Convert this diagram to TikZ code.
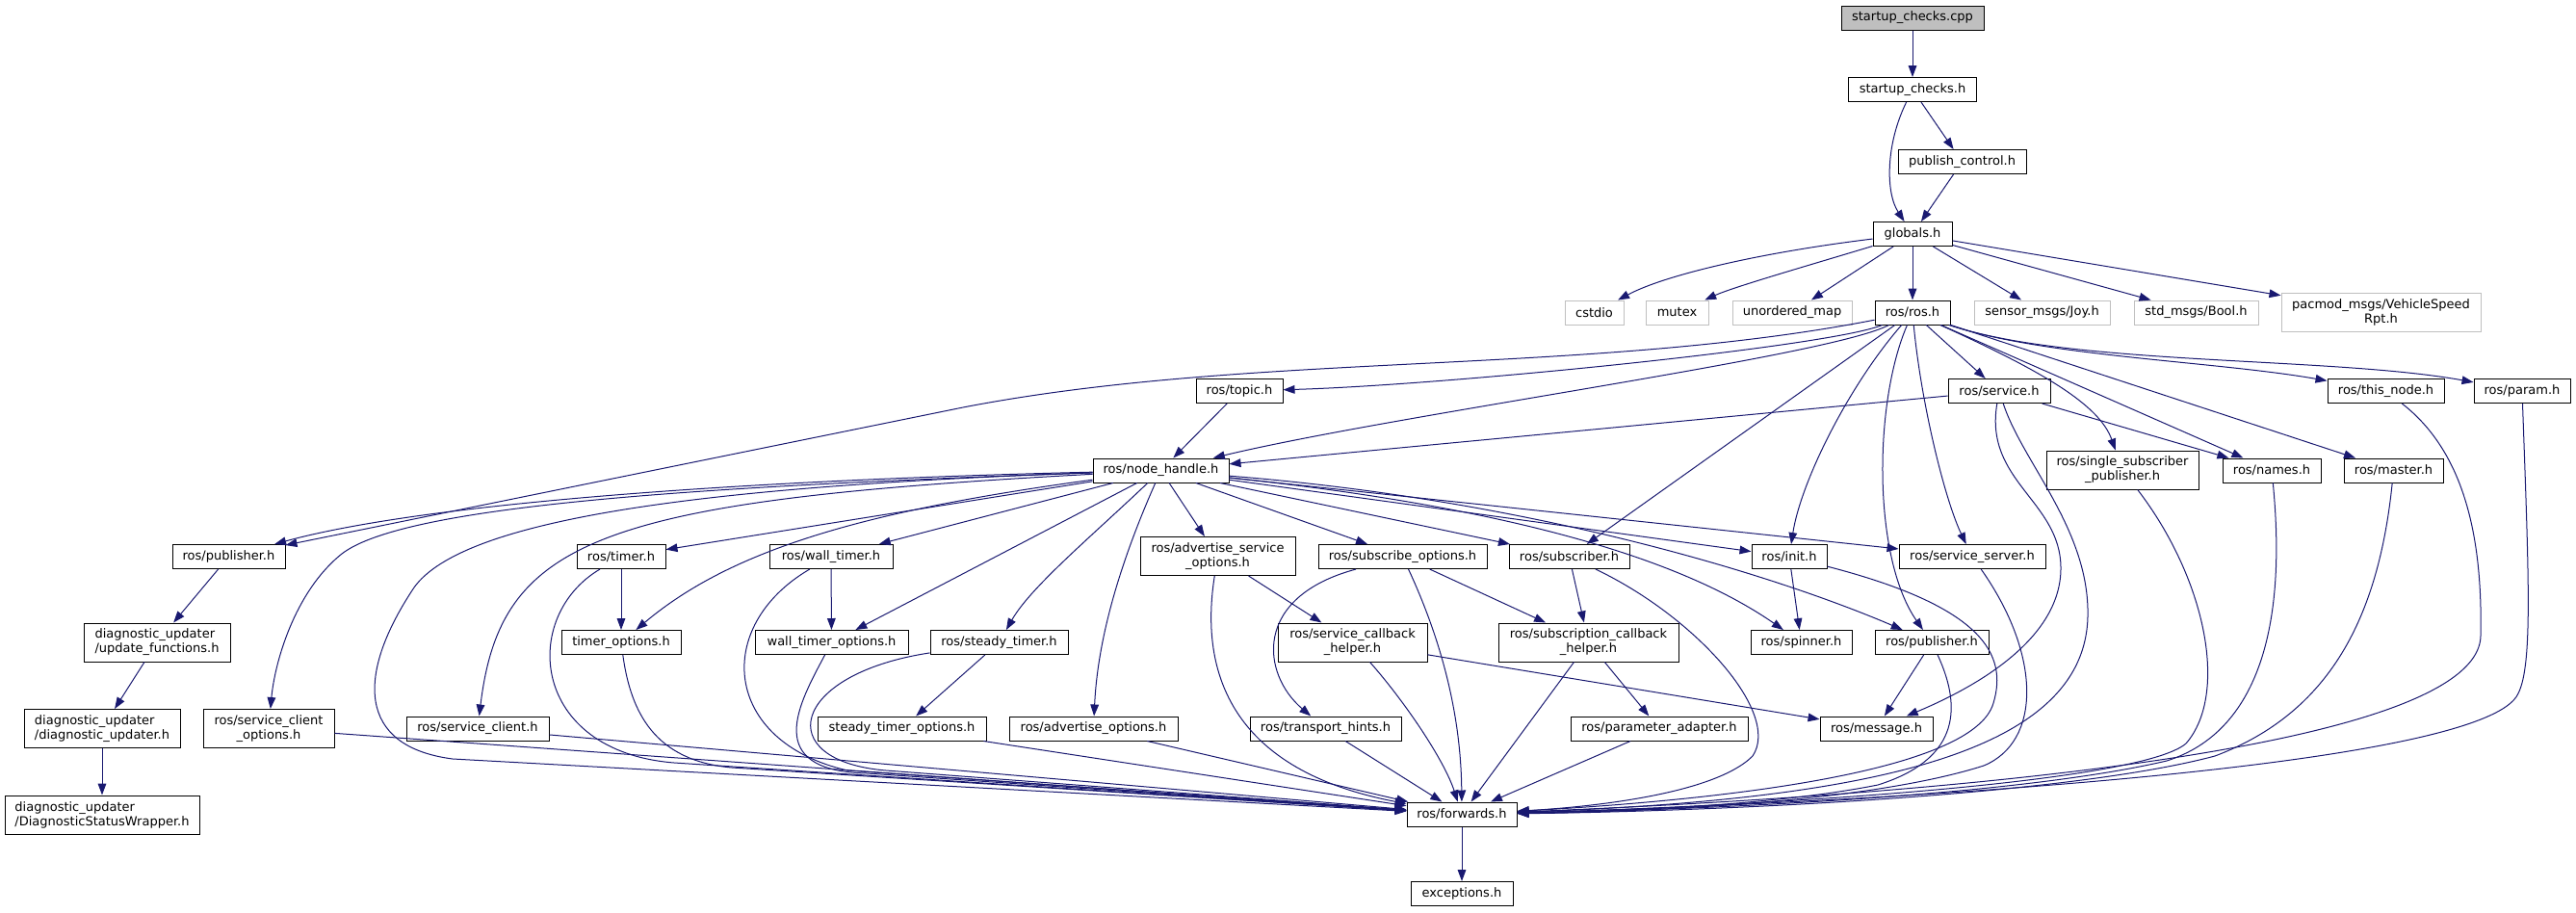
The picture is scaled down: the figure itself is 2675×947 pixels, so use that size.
\documentclass[tikz,border=0pt]{standalone}
\usepackage{fontspec}
\setmainfont{DejaVu Sans}
\usetikzlibrary{arrows.meta}
\definecolor{edgecol}{HTML}{191970}
\definecolor{gry}{HTML}{BFBFBF}
\begin{document}
\begin{tikzpicture}[x=0.75pt,y=-0.75pt,
  box/.style={draw=black, line width=0.75pt, inner sep=0pt, minimum height=18.75pt,
    align=center, font=\fontsize{9.75pt}{11.25pt}\selectfont, minimum width=#1*0.75pt},
  box2/.style={box=#1, minimum height=30pt},
  boxl/.style={box2=#1, align=left},
  ghost/.style={box=#1, draw=gry},
  ghost2/.style={box2=#1, draw=gry},
  edg/.style={color=edgecol, line width=0.75pt, -{Triangle[length=9pt,width=6.5pt]}}]
\useasboundingbox (0,0) rectangle (2675,947);

% nodes
\node[box=148, fill=gry] (cpp) at (1986,18.5) {startup\_checks.cpp};
\node[box=133] (sch) at (1986,93) {startup\_checks.h};
\node[box=133] (pubctl) at (2037.5,168) {publish\_control.h};
\node[box=82] (glob) at (1986,243) {globals.h};
\node[ghost=61] (cstdio) at (1655.5,324.5) {cstdio};
\node[ghost=65] (mutex) at (1741.5,324.5) {mutex};
\node[ghost=124] (umap) at (1861,324.5) {unordered\_map};
\node[box=78] (rosh) at (1986,324.5) {ros/ros.h};
\node[ghost=141] (joy) at (2120.5,324.5) {sensor\_msgs/Joy.h};
\node[ghost=129] (bool) at (2280.5,324.5) {std\_msgs/Bool.h};
\node[ghost2=207] (pacmod) at (2472.5,324) {pacmod\_msgs/VehicleSpeed\\Rpt.h};
\node[box=90] (topic) at (1287,406) {ros/topic.h};
\node[box=106] (service) at (2076,406) {ros/service.h};
\node[box=121] (thisnode) at (2477.5,406) {ros/this\_node.h};
\node[box=100] (param) at (2619,406) {ros/param.h};
\node[box=141] (nh) at (1205.5,488.5) {ros/node\_handle.h};
\node[box2=158] (ssp) at (2204,488) {ros/single\_subscriber\\\_publisher.h};
\node[box=102] (names) at (2359,488.5) {ros/names.h};
\node[box=103] (master) at (2485.5,488.5) {ros/master.h};
\node[box=117] (pubL) at (237.5,578) {ros/publisher.h};
\node[box=92] (timer) at (645,578) {ros/timer.h};
\node[box=128] (walltimer) at (863,578) {ros/wall\_timer.h};
\node[box2=161] (aso) at (1264.5,577.5) {ros/advertise\_service\\\_options.h};
\node[box=175] (subopt) at (1456.5,578) {ros/subscribe\_options.h};
\node[box=125] (subscriber) at (1629.5,578) {ros/subscriber.h};
\node[box=78] (init) at (1858,578) {ros/init.h};
\node[box=152] (sserver) at (2048,578) {ros/service\_server.h};
\node[boxl=152] (updfn) at (163,667) {diagnostic\_updater\\/update\_functions.h};
\node[box=124] (timeropt) at (645,667) {timer\_options.h};
\node[box=159] (walltimeropt) at (863.5,667) {wall\_timer\_options.h};
\node[box=143] (steadytimer) at (1037.5,667) {ros/steady\_timer.h};
\node[box2=155] (schelper) at (1404.5,667) {ros/service\_callback\\\_helper.h};
\node[box2=187] (subcb) at (1649.5,667) {ros/subscription\_callback\\\_helper.h};
\node[box=105] (spinner) at (1870.5,667) {ros/spinner.h};
\node[box=118] (pubR) at (2006,667) {ros/publisher.h};
\node[boxl=162] (diagupd) at (106,756.5) {diagnostic\_updater\\/diagnostic\_updater.h};
\node[box2=136] (sco) at (279,756.5) {ros/service\_client\\\_options.h};
\node[box=148] (sclient) at (496,756.5) {ros/service\_client.h};
\node[box=175] (steadyopt) at (936.5,756.5) {steady\_timer\_options.h};
\node[box=175] (advopt) at (1135.5,756.5) {ros/advertise\_options.h};
\node[box=157] (thints) at (1376.5,756.5) {ros/transport\_hints.h};
\node[box=184] (padapter) at (1723,756.5) {ros/parameter\_adapter.h};
\node[box=117] (message) at (1948.5,756.5) {ros/message.h};
\node[boxl=202] (dsw) at (106,846) {diagnostic\_updater\\/DiagnosticStatusWrapper.h};
\node[box=114] (forwards) at (1518,845.5) {ros/forwards.h};
\node[box=106] (exceptions) at (1518,928) {exceptions.h};

% top
\draw[edg] (cpp) -- (sch);
\draw[edg] (sch) .. controls (1958,150) and (1958,200) .. (glob);
\draw[edg] (sch) -- (pubctl);
\draw[edg] (pubctl) -- (glob);
\draw[edg] (glob) .. controls (1830,262) and (1730,285) .. (cstdio);
\draw[edg] (glob) .. controls (1880,275) and (1800,298) .. (mutex);
\draw[edg] (glob) -- (umap);
\draw[edg] (glob) -- (rosh);
\draw[edg] (glob) -- (joy);
\draw[edg] (glob) -- (bool);
\draw[edg] (glob) -- (pacmod);

% ros.h
\draw[edg] (rosh) .. controls (1900,360) and (1500,400) .. (topic);
\draw[edg] (rosh) .. controls (1900,370) and (1450,430) .. (nh);
\draw[edg] (rosh) .. controls (1650,390) and (1300,365) .. (1000,423) -- (pubL);
\draw[edg] (rosh) -- (service);
\draw[edg] (rosh) .. controls (2120,370) and (2300,375) .. (thisnode);
\draw[edg] (rosh) .. controls (2150,380) and (2420,370) .. (param);
\draw[edg] (rosh) .. controls (2120,385) and (2180,420) .. (ssp);
\draw[edg] (rosh) -- (names);
\draw[edg] (rosh) -- (master);
\draw[edg] (rosh) -- (subscriber);
\draw[edg] (rosh) .. controls (1920,400) and (1870,500) .. (init);
\draw[edg] (rosh) .. controls (1945,420) and (1945,580) .. (pubR);
\draw[edg] (rosh) .. controls (1995,420) and (2020,520) .. (sserver);

% service.h
\draw[edg] (service) -- (nh);
\draw[edg] (service) -- (names);
\draw[edg] (service) .. controls (2060,500) and (2140,520) .. (2140,590) .. controls (2140,660) and (2060,710) .. (message);
\draw[edg] (service) .. controls (2100,480) and (2170,550) .. (2168,640) .. controls (2165,780) and (1950,830) .. (forwards);

% right side into forwards
\draw[edg] (param) .. controls (2626,600) and (2630,690) .. (2615,720) .. controls (2580,800) and (1900,835) .. (forwards);
\draw[edg] (thisnode) .. controls (2560,470) and (2578,560) .. (2576,660) .. controls (2574,790) and (1900,830) .. (forwards);
\draw[edg] (master) .. controls (2470,640) and (2420,740) .. (2300,785) .. controls (2150,825) and (1800,842) .. (forwards);
\draw[edg] (names) .. controls (2375,650) and (2345,760) .. (2250,790) .. controls (2100,825) and (1800,840) .. (forwards);
\draw[edg] (ssp) .. controls (2290,600) and (2315,720) .. (2270,772) .. controls (2220,815) and (1800,838) .. (forwards);
\draw[edg] (sserver) .. controls (2120,680) and (2120,770) .. (2060,795) .. controls (1950,830) and (1750,842) .. (forwards);
\draw[edg] (pubR) .. controls (2040,740) and (2030,790) .. (1950,815) .. controls (1850,835) and (1700,842) .. (forwards);
\draw[edg] (init) .. controls (2060,630) and (2085,680) .. (2070,730) .. controls (2050,800) and (1800,830) .. (forwards);
\draw[edg] (subscriber) .. controls (1760,640) and (1850,740) .. (1820,785) .. controls (1780,825) and (1650,838) .. (forwards);
\draw[edg] (subcb) -- (forwards);
\draw[edg] (padapter) -- (forwards);
\draw[edg] (subopt) .. controls (1490,650) and (1517,730) .. (forwards);
\draw[edg] (schelper) .. controls (1460,730) and (1500,790) .. (forwards);
\draw[edg] (thints) -- (forwards);
\draw[edg] (aso) .. controls (1245,700) and (1280,800) .. (forwards);
\draw[edg] (advopt) -- (forwards);
\draw[edg] (steadyopt) -- (forwards);
\draw[edg] (steadytimer) .. controls (820,700) and (800,790) .. (920,800) -- (forwards);
\draw[edg] (walltimeropt) .. controls (830,730) and (790,800) .. (900,803) -- (forwards);
\draw[edg] (walltimer) .. controls (740,650) and (750,770) .. (880,800) -- (forwards);
\draw[edg] (timeropt) .. controls (655,740) and (680,790) .. (760,797) -- (forwards);
\draw[edg] (timer) .. controls (540,640) and (550,780) .. (700,792) -- (forwards);
\draw[edg] (sclient) -- (forwards);
\draw[edg] (sco) -- (forwards);
\draw[edg] (nh) .. controls (720,505) and (480,540) .. (430,610) .. controls (370,700) and (370,775) .. (470,788) -- (forwards);

% node_handle.h
\draw[edg] (nh) .. controls (800,498) and (450,520) .. (pubL);
\draw[edg] (nh) .. controls (720,505) and (420,525) .. (355,575) .. controls (305,615) and (285,690) .. (sco);
\draw[edg] (nh) .. controls (620,520) and (520,560) .. (sclient);
\draw[edg] (nh) -- (timer);
\draw[edg] (nh) .. controls (900,530) and (760,570) .. (timeropt);
\draw[edg] (nh) -- (walltimer);
\draw[edg] (nh) -- (walltimeropt);
\draw[edg] (nh) .. controls (1130,560) and (1070,610) .. (steadytimer);
\draw[edg] (nh) .. controls (1165,580) and (1140,660) .. (advopt);
\draw[edg] (nh) -- (aso);
\draw[edg] (nh) -- (subopt);
\draw[edg] (nh) -- (subscriber);
\draw[edg] (nh) -- (init);
\draw[edg] (nh) -- (sserver);
\draw[edg] (nh) .. controls (1600,530) and (1760,590) .. (spinner);
\draw[edg] (nh) .. controls (1600,520) and (1850,600) .. (pubR);

% others
\draw[edg] (topic) -- (nh);
\draw[edg] (timer) -- (timeropt);
\draw[edg] (walltimer) -- (walltimeropt);
\draw[edg] (steadytimer) -- (steadyopt);
\draw[edg] (aso) -- (schelper);
\draw[edg] (subopt) .. controls (1300,620) and (1310,700) .. (thints);
\draw[edg] (subopt) -- (subcb);
\draw[edg] (subscriber) -- (subcb);
\draw[edg] (subcb) -- (padapter);
\draw[edg] (schelper) -- (message);
\draw[edg] (pubR) -- (message);
\draw[edg] (init) -- (spinner);
\draw[edg] (pubL) -- (updfn);
\draw[edg] (updfn) -- (diagupd);
\draw[edg] (diagupd) -- (dsw);
\draw[edg] (forwards) -- (exceptions);
\end{tikzpicture}
\end{document}
